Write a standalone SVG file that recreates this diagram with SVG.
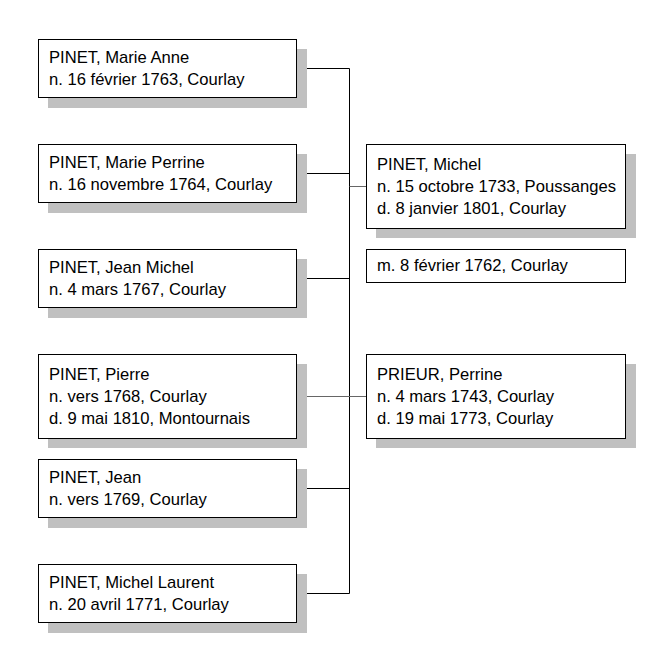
<svg xmlns="http://www.w3.org/2000/svg" width="665" height="658" viewBox="0 0 665 658">
<style>
.sh{fill:#c0c0c0;stroke:none}
.bx{fill:#fff;stroke:#000;stroke-width:1}
text{font-family:"Liberation Sans",Arial,sans-serif;font-size:16.6px;fill:#000}
.k{stroke:#000;stroke-width:1;fill:none}
.g{stroke:#666;stroke-width:1;fill:none}
</style>
<rect width="665" height="658" fill="#fff"/>
<g id="connectors">
<path class="k" d="M349.5 68.5V593.5M296.5 68.5H349.5M296.5 173.5H349.5M296.5 278.5H349.5M296.5 488.5H349.5M296.5 593.5H349.5"/>
<path class="g" d="M296.5 396.5H366.5M349.5 186.5H366.5"/>
</g>
<g id="n1">
<rect class="sh" x="48" y="49" width="259" height="59"/>
<rect class="bx" x="38.5" y="39.5" width="258" height="58"/>
<text x="49" y="63">PINET, Marie Anne</text>
<text x="49" y="85">n. 16 février 1763, Courlay</text>
</g>
<g id="n2">
<rect class="sh" x="48" y="154" width="259" height="59"/>
<rect class="bx" x="38.5" y="144.5" width="258" height="58"/>
<text x="49" y="168">PINET, Marie Perrine</text>
<text x="49" y="190">n. 16 novembre 1764, Courlay</text>
</g>
<g id="n3">
<rect class="sh" x="48" y="259" width="259" height="59"/>
<rect class="bx" x="38.5" y="249.5" width="258" height="58"/>
<text x="49" y="273">PINET, Jean Michel</text>
<text x="49" y="295">n. 4 mars 1767, Courlay</text>
</g>
<g id="n4">
<rect class="sh" x="48" y="364" width="259" height="84"/>
<rect class="bx" x="38.5" y="354.5" width="258" height="84"/>
<text x="49" y="380">PINET, Pierre</text>
<text x="49" y="402">n. vers 1768, Courlay</text>
<text x="49" y="424">d. 9 mai 1810, Montournais</text>
</g>
<g id="n5">
<rect class="sh" x="48" y="469" width="259" height="59"/>
<rect class="bx" x="38.5" y="459.5" width="258" height="58"/>
<text x="49" y="483">PINET, Jean</text>
<text x="49" y="505">n. vers 1769, Courlay</text>
</g>
<g id="n6">
<rect class="sh" x="48" y="574" width="259" height="59"/>
<rect class="bx" x="38.5" y="564.5" width="258" height="58"/>
<text x="49" y="588">PINET, Michel Laurent</text>
<text x="49" y="610">n. 20 avril 1771, Courlay</text>
</g>
<g id="father">
<rect class="sh" x="376" y="154" width="260" height="84"/>
<rect class="bx" x="366.5" y="144.5" width="259" height="84"/>
<text x="377" y="170">PINET, Michel</text>
<text x="377" y="192">n. 15 octobre 1733, Poussanges</text>
<text x="377" y="214">d. 8 janvier 1801, Courlay</text>
</g>
<g id="marriage">
<rect class="bx" x="366.5" y="249.5" width="259" height="33"/>
<text x="377" y="271">m. 8 février 1762, Courlay</text>
</g>
<g id="mother">
<rect class="sh" x="376" y="364" width="260" height="84"/>
<rect class="bx" x="366.5" y="354.5" width="259" height="84"/>
<text x="377" y="380">PRIEUR, Perrine</text>
<text x="377" y="402">n. 4 mars 1743, Courlay</text>
<text x="377" y="424">d. 19 mai 1773, Courlay</text>
</g>
</svg>
